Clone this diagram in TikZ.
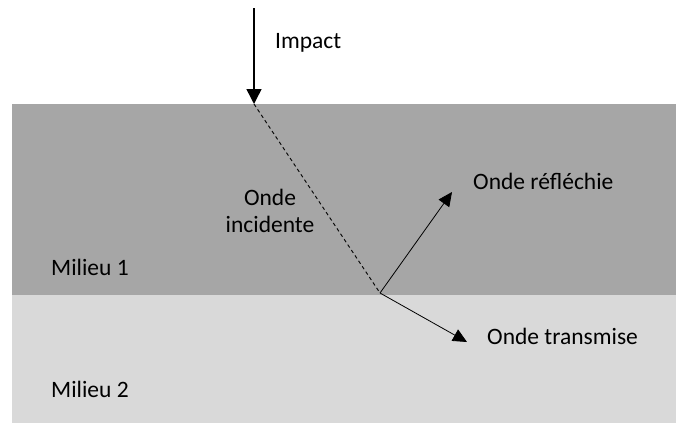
\documentclass[tikz,border=0pt]{standalone}
\usepackage{fontspec}
\setmainfont{Carlito}
\usetikzlibrary{arrows.meta}
\begin{document}
\begin{tikzpicture}[x=1pt,y=-1pt,
  lbl/.style={font=\fontsize{23.5}{28}\selectfont, inner sep=0pt, text=black},
  thinarrow/.style={line width=0.8pt, -{Triangle[width=13pt,length=14pt]}},
  impactarrow/.style={line width=1.5pt, -{Triangle[width=15pt,length=15pt]}}]
\useasboundingbox (0,0) rectangle (676,423);
\fill[fill={rgb,255:red,166;green,166;blue,166}] (12,104) rectangle (676,295);
\fill[fill={rgb,255:red,217;green,217;blue,217}] (12,295) rectangle (676,423);
\coordinate (top) at (254,8);
\coordinate (hit) at (254,104);
\coordinate (base) at (380,293);
\coordinate (refl) at (452,192);
\coordinate (trans) at (467,342);
\draw[impactarrow] (top) -- (hit);
\draw[line width=0.9pt, dash pattern=on 3.5pt off 3pt] (hit) -- (base);
\draw[thinarrow] (base) -- (refl);
\draw[thinarrow] (base) -- (trans);
\node[lbl, anchor=base west] (impact) at (275,48) {Impact};
\node[lbl, anchor=base] (inc1) at (270,205) {Onde};
\node[lbl, anchor=base] (inc2) at (270,232) {incidente};
\node[lbl, anchor=base west] (refltxt) at (473,189) {Onde réfléchie};
\node[lbl, anchor=base west] (transtxt) at (487,344) {Onde transmise};
\node[lbl, anchor=base west] (m1) at (51,275) {Milieu 1};
\node[lbl, anchor=base west] (m2) at (51,397) {Milieu 2};
\end{tikzpicture}
\end{document}
